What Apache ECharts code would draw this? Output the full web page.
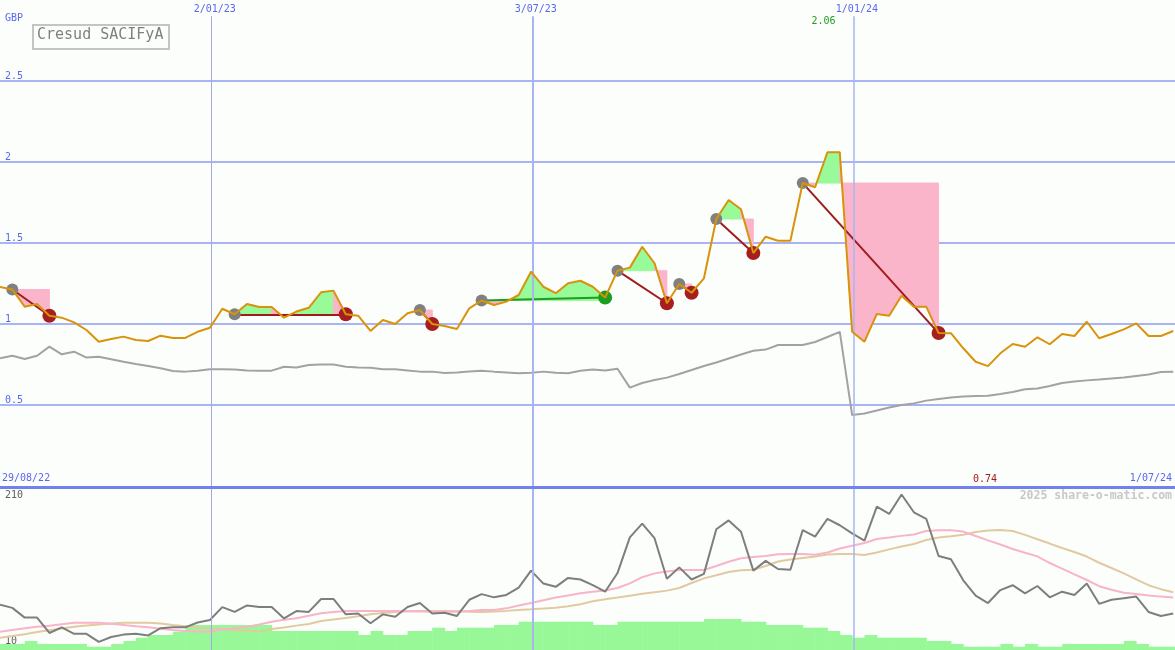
<!DOCTYPE html>
<html><head><meta charset="utf-8">
<script src="https://cdn.jsdelivr.net/npm/echarts@6/dist/echarts.min.js"></script>
<style>html,body{margin:0;padding:0;background:#fcfefc;}#c{width:1175px;height:650px;}</style>
</head><body><div id="c"></div>
<script>
// ---------- data ----------
const firstWeek = [2022, 8, 4];      // first weekly point (UTC y, m0, d)
const lastDay = [2024, 6, 1];        // right edge of the chart
const price = [1.228,1.213,1.107,1.123,1.051,1.039,1.01,0.963,0.891,0.907,
  0.922,0.901,0.895,0.928,0.914,0.914,0.952,0.977,1.094,1.06,
  1.123,1.105,1.105,1.039,1.077,1.10,1.196,1.206,1.06,1.051,
  0.957,1.025,1.0,1.066,1.086,1.0,0.988,0.969,1.097,1.145,
  1.117,1.138,1.179,1.323,1.230,1.190,1.251,1.267,1.230,1.163,
  1.329,1.348,1.477,1.375,1.128,1.247,1.193,1.282,1.648,1.765,
  1.708,1.438,1.539,1.514,1.514,1.870,1.844,2.06,2.06,0.952,
  0.891,1.062,1.051,1.175,1.107,1.107,0.944,0.943,0.85,0.767,
  0.74,0.819,0.877,0.86,0.918,0.875,0.938,0.926,1.014,0.912,
  0.938,0.967,1.004,0.926,0.926,0.957];
const priceAvg = [0.788,0.804,0.784,0.804,0.86,0.813,0.829,0.793,0.798,0.782,
  0.767,0.753,0.741,0.727,0.710,0.706,0.712,0.720,0.720,0.719,
  0.713,0.712,0.712,0.736,0.731,0.747,0.750,0.750,0.736,0.731,
  0.730,0.720,0.720,0.713,0.706,0.706,0.698,0.701,0.707,0.712,
  0.706,0.701,0.696,0.699,0.706,0.699,0.696,0.712,0.719,0.713,
  0.724,0.607,0.636,0.654,0.669,0.691,0.716,0.741,0.762,0.787,
  0.812,0.835,0.842,0.870,0.870,0.870,0.889,0.920,0.951,0.438,
  0.448,0.466,0.485,0.5,0.510,0.527,0.537,0.546,0.552,0.556,
  0.557,0.568,0.580,0.597,0.602,0.617,0.636,0.645,0.652,0.657,
  0.664,0.670,0.679,0.688,0.704,0.706];
const indicator = [66,62,50,50,31,38,30,30,20,26,
  29,30,28,37,38,38,44,47,63,57,
  65,63,63,49,58,57,73,73,54,55,
  43,54,51,63,68,55,56,52,72,79,
  75,78,87,108,92,88,99,97,90,82,
  105,149,166,148,98,112,97,104,159,170,
  156,108,120,110,109,158,150,172,164,154,
  145,187,178,202,180,172,126,122,96,77,
  68,84,90,80,89,75,82,78,92,67,
  72,74,76,57,52,55];
const indicatorFast = [32.6,34.7,36.8,38.8,40,41.9,43.7,43.7,43.7,42.3,
  40.9,39.4,38,36.3,34.7,33.5,32.7,32.5,35.2,37,
  38.8,41.4,44.9,47.3,49.3,52.2,55.4,56.9,58.1,58.1,
  58.1,58.1,58.1,57.9,57.5,57.3,57.3,57.3,58.1,59.4,
  59.4,61.4,64.9,68,71.5,74.8,77.4,80,82,83.5,
  86.5,92.3,99.9,104.6,106.9,108.8,108.8,108.8,113.7,118.9,
  123.2,124.8,126,128.3,128.5,128.5,127.5,130.4,135.3,138.8,
  142.1,147,148.9,150.9,152.5,157,157.8,157.7,156.2,150.7,
  145.4,140.3,134.7,130,125.6,117.4,110.5,103.3,96.4,88.8,
  84.4,80.7,79,77.3,75.9,74.7];
const indicatorSlow = [25.2,27.3,29.5,32.2,34.4,36.5,38.6,40.2,41.6,42.7,
  43.7,43.7,43.7,42.8,40.9,39.4,37.8,36.7,35.7,34.7,
  33.7,32.7,35.9,37.9,40.1,42.1,45.8,47.7,49.4,51.7,
  54,55.7,56.9,57.7,58.1,58.1,58.1,58.1,57.3,56.9,
  57.4,58.3,59.4,60.2,61.1,62.1,64.1,66.5,70.2,72.6,
  74.7,76.9,79.4,81.4,83.3,86.5,92.7,98.4,102.3,106.3,
  108.5,109.1,113.7,119.3,121.6,123.6,125.4,128,128.5,128.5,
  127.3,130.4,134.2,137.7,140.9,145.8,149,150.5,152.3,155.7,
  157.4,158.2,156.9,152.1,146.8,141.4,135.9,131,125.4,117.7,
  111.2,104.6,97.3,90,85.1,81.2];
const volume = [6,6,9,6,6,6,6,3.3,3.3,6,
  9,12.3,15,15,18.3,25,25,25,25,25,
  25,25,19,19,19,19,19,19,19,15,
  19,15,15,19,19,22.3,19,22.3,22.3,22.3,
  25,25,28.3,28.3,28.3,28.3,28.3,28.3,25,25,
  28.3,28.3,28.3,28.3,28.3,28.3,28.3,31,31,31,
  28.3,28.3,25,25,25,22.3,22.3,19,15,12.3,
  15,12.3,12.3,12.3,12.3,9,9,6,3.3,3.3,
  3.3,6,3.3,6,3.3,3.3,6,6,6,6,
  6,9,6,3.3,3.3,3.3];
const tradeEntryWeek = [1, 19, 34, 39, 50, 55, 58, 65];
const tradeExitWeek  = [4, 28, 35, 49, 54, 56, 61, 76];
const eventDates  = [[2023,0,2],[2023,6,3],[2024,0,1]];
const eventLabels = ['2/01/23','3/07/23','1/01/24'];
const priceTicks = [0.5, 1, 1.5, 2, 2.5];
const rangeStartLabel = '29/08/22', rangeEndLabel = '1/07/24';
const currency = 'GBP', title = 'Cresud SACIFyA', credit = '2025 share-o-matic.com';
const indicatorMinLabel = '10', indicatorMaxLabel = '210';

// ---------- build ----------
const DAY = 86400000;
const t0 = Date.UTC(...firstWeek), tEnd = Date.UTC(...lastDay);
const wt = price.map((_, i) => t0 + i * 7 * DAY);
const evT = eventDates.map(d => Date.UTC(...d));
const MONO = 'DejaVu Sans Mono';
const BLUE = '#5a66ee', GRID = '#a8b4f4';
const PINK = '#fbb5ca', LGREEN = '#98fa98';

const maxV = Math.max(...price), minV = Math.min(...price);
const maxI = price.indexOf(maxV), minI = price.indexOf(minV);

const fillData = [];
tradeEntryWeek.forEach((e, ti) => { for (let k = e; k < tradeExitWeek[ti]; k++) fillData.push([wt[k], price[k], ti, k]); });

const vLineStyles = [{color:'#a4aadc', width:1}, {color:GRID, width:2}, {color:GRID, width:1.5}];

const chart = echarts.init(document.getElementById('c'), null, {renderer:'canvas'});
chart.setOption({
  backgroundColor: '#fcfefc',
  animation: false,
  grid: [{left:0, right:0, top:0, height:486}, {left:0, right:0, top:488, height:162}],
  xAxis: [
    {type:'time', gridIndex:0, min:t0, max:tEnd, show:false},
    {type:'time', gridIndex:1, min:t0, max:tEnd, show:false}
  ],
  yAxis: [
    {type:'value', gridIndex:0, min:0, max:3, interval:0.5,
     axisLine:{show:false}, axisTick:{show:false},
     splitLine:{show:true, showMinLine:false, showMaxLine:false, lineStyle:{color:GRID, width:2}},
     axisLabel:{inside:true, margin:5, verticalAlign:'bottom', color:BLUE, fontFamily:MONO, fontSize:10,
       formatter: v => priceTicks.includes(v) ? String(v) : ''}},
    {type:'value', gridIndex:1, min:10, max:210, show:false},
    {type:'value', gridIndex:1, min:0, max:162, show:false}
  ],
  graphic: [
    {type:'rect', left:0, top:486, shape:{width:1175, height:3}, style:{fill:'#7282ec'}, z:10},
    {type:'text', left:5, top:13, style:{text:currency, fill:BLUE, font:`10px "${MONO}"`}},
    {type:'rect', left:32, top:24, shape:{width:136, height:24}, style:{fill:'#fcfefc', stroke:'#c4c4c4', lineWidth:2}, z:20},
    {type:'text', left:37, top:28, style:{text:title, fill:'#808080', font:`15px "${MONO}"`}, z:21},
    {type:'text', left:2, top:473, style:{text:rangeStartLabel, fill:BLUE, font:`10px "${MONO}"`}},
    {type:'text', right:3, top:473, style:{text:rangeEndLabel, fill:BLUE, font:`10px "${MONO}"`}},
    {type:'text', left:5, top:490, style:{text:indicatorMaxLabel, fill:'#606060', font:`10px "${MONO}"`}},
    {type:'text', left:5, top:636, style:{text:indicatorMinLabel, fill:'#606060', font:`10px "${MONO}"`}},
    {type:'text', right:3, top:490, style:{text:credit, fill:'#c8c8c8', font:`bold 11.5px "${MONO}"`}}
  ],
  series: [
    // vertical date lines, top panel
    {type:'line', xAxisIndex:0, yAxisIndex:0, data:[], z:0, silent:true,
     markLine:{silent:true, symbol:['none','none'], animation:false,
       label:{show:true, position:'end', distance:2, offset:[3,0], color:BLUE, fontFamily:MONO, fontSize:10},
       data: evT.map((t, i) => [
         {coord:[t, 0], lineStyle:{type:'solid', opacity:1, ...vLineStyles[i]}, label:{formatter:eventLabels[i]}},
         {coord:[t, 2.9]}])}},
    // vertical date lines, lower panel
    {type:'line', xAxisIndex:1, yAxisIndex:1, data:[], z:0, silent:true,
     markLine:{silent:true, symbol:['none','none'], animation:false, label:{show:false},
       data: evT.map((t, i) => [
         {coord:[t, 10], lineStyle:{type:'solid', opacity:1, ...vLineStyles[i]}},
         {coord:[t, 210]}])}},
    // trade fills
    {type:'custom', xAxisIndex:0, yAxisIndex:0, z:1, silent:true, data:fillData,
     encode:{x:0, y:1},
     renderItem(params, api) {
       const ti = api.value(2), k = api.value(3);
       const lvl = price[tradeEntryWeek[ti]];
       const p0 = api.coord([wt[k], price[k]]), p1 = api.coord([wt[k+1], price[k+1]]);
       const b0 = api.coord([wt[k], lvl]), b1 = api.coord([wt[k+1], lvl]);
       const col = price[k+1] > lvl ? LGREEN : PINK;
       return {type:'polygon', shape:{points:[b0, p0, p1, b1]},
         style:{fill: col, stroke: col, lineWidth: 1}};
     }},
    // price average (grey)
    {type:'line', xAxisIndex:0, yAxisIndex:0, z:2, silent:true, symbol:'none',
     data: priceAvg.map((v, i) => [wt[i], v]), lineStyle:{color:'#a2a2a2', width:2}},
    // trade connectors
    {type:'lines', coordinateSystem:'cartesian2d', xAxisIndex:0, yAxisIndex:0, z:3, silent:true,
     data: tradeEntryWeek.map((e, ti) => {
       const x = tradeExitWeek[ti];
       return {coords:[[wt[e], price[e]], [wt[x], price[x]]],
         lineStyle:{color: price[x] > price[e] ? '#1e9e1e' : '#a01c1c', width:2, opacity:1, curveness:0}};
     })},
    // entry markers
    {type:'scatter', xAxisIndex:0, yAxisIndex:0, z:4, silent:true, symbolSize:12,
     itemStyle:{color:'#808080', opacity:1}, data: tradeEntryWeek.map(e => [wt[e], price[e]])},
    // exit markers
    {type:'scatter', xAxisIndex:0, yAxisIndex:0, z:4, silent:true, symbolSize:14,
     data: tradeExitWeek.map((x, ti) => ({value:[wt[x], price[x]],
       itemStyle:{opacity:1, color: price[x] > price[tradeEntryWeek[ti]] ? '#1e9e1e' : '#a61e1e'}}))},
    // price
    {type:'line', xAxisIndex:0, yAxisIndex:0, z:5, silent:true, symbol:'none',
     data: price.map((v, i) => [wt[i], v]), lineStyle:{color:'#d8930a', width:2},
     markPoint:{silent:true, symbol:'circle', symbolSize:1, itemStyle:{color:'rgba(0,0,0,0)'},
       data:[
         {coord:[wt[maxI], 2.87], label:{show:true, position:'inside', offset:[-4,0], formatter:maxV.toFixed(2), color:'#1e9e1e', fontFamily:MONO, fontSize:10}},
         {coord:[wt[minI], 0.043], label:{show:true, position:'inside', offset:[-3,0], formatter:minV.toFixed(2), color:'#a01c1c', fontFamily:MONO, fontSize:10}}
       ]}},
    // volume
    {type:'custom', xAxisIndex:1, yAxisIndex:2, z:1, silent:true,
     data: volume.map((v, i) => [wt[i], v, i]), encode:{x:0, y:1},
     renderItem(params, api) {
       const i = api.value(2);
       const a = api.coord([wt[i], api.value(1)]);
       const b = api.coord([i + 1 < wt.length ? wt[i+1] : tEnd, 0]);
       return {type:'rect', shape:{x:a[0], y:a[1], width:b[0]-a[0]+0.5, height:b[1]-a[1]}, style:{fill:'#98f898'}};
     }},
    {type:'line', xAxisIndex:1, yAxisIndex:1, z:2, silent:true, symbol:'none',
     data: indicatorSlow.map((v, i) => [wt[i], v]), lineStyle:{color:'#e2caa0', width:2}},
    {type:'line', xAxisIndex:1, yAxisIndex:1, z:3, silent:true, symbol:'none',
     data: indicatorFast.map((v, i) => [wt[i], v]), lineStyle:{color:'#f8b4c8', width:2}},
    {type:'line', xAxisIndex:1, yAxisIndex:1, z:4, silent:true, symbol:'none',
     data: indicator.map((v, i) => [wt[i], v]), lineStyle:{color:'#7e7e7e', width:2}}
  ]
});
</script></body></html>
